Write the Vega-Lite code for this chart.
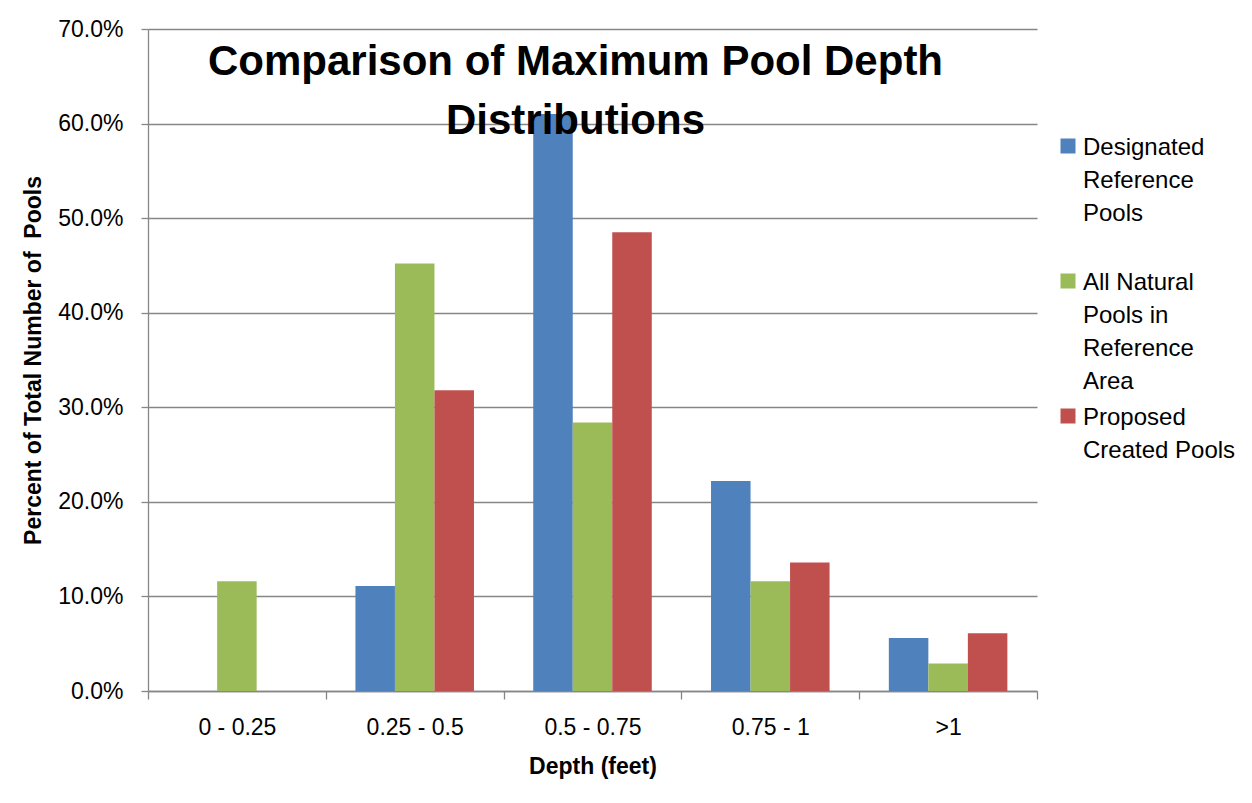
{
  "$schema": "https://vega.github.io/schema/vega-lite/v6.json",
  "width": 889,
  "height": 662,
  "autosize": {"type": "none"},
  "padding": {"left": 148, "top": 29, "right": 215, "bottom": 112},
  "background": "white",
  "title": {
    "text": ["Comparison of Maximum Pool Depth", "Distributions"],
    "font": "Liberation Sans",
    "fontSize": 42,
    "fontWeight": "bold",
    "color": "black",
    "lineHeight": 59,
    "anchor": "middle",
    "dx": -17,
    "offset": -158,
    "baseline": "alphabetic"
  },
  "data": {
    "values": [
      {"depth": "0 - 0.25", "series": "Designated Reference Pools", "pct": 0},
      {"depth": "0 - 0.25", "series": "All Natural Pools in Reference Area", "pct": 0.116},
      {"depth": "0 - 0.25", "series": "Proposed Created Pools", "pct": 0},
      {"depth": "0.25 - 0.5", "series": "Designated Reference Pools", "pct": 0.111},
      {"depth": "0.25 - 0.5", "series": "All Natural Pools in Reference Area", "pct": 0.452},
      {"depth": "0.25 - 0.5", "series": "Proposed Created Pools", "pct": 0.318},
      {"depth": "0.5 - 0.75", "series": "Designated Reference Pools", "pct": 0.610},
      {"depth": "0.5 - 0.75", "series": "All Natural Pools in Reference Area", "pct": 0.284},
      {"depth": "0.5 - 0.75", "series": "Proposed Created Pools", "pct": 0.485},
      {"depth": "0.75 - 1", "series": "Designated Reference Pools", "pct": 0.222},
      {"depth": "0.75 - 1", "series": "All Natural Pools in Reference Area", "pct": 0.116},
      {"depth": "0.75 - 1", "series": "Proposed Created Pools", "pct": 0.136},
      {"depth": ">1", "series": "Designated Reference Pools", "pct": 0.056},
      {"depth": ">1", "series": "All Natural Pools in Reference Area", "pct": 0.029},
      {"depth": ">1", "series": "Proposed Created Pools", "pct": 0.061}
    ]
  },
  "mark": {"type": "bar"},
  "encoding": {
    "x": {
      "field": "depth",
      "type": "nominal",
      "sort": ["0 - 0.25", "0.25 - 0.5", "0.5 - 0.75", "0.75 - 1", ">1"],
      "scale": {"paddingInner": 0, "paddingOuter": 0},
      "axis": {
        "title": "Depth (feet)",
        "titleFontSize": 23,
        "titleFontWeight": "bold",
        "titleColor": "black",
        "titlePadding": 16,
        "labelFontSize": 23,
        "labelColor": "black",
        "labelAngle": 0,
        "labelPadding": 17,
        "tickSize": 8,
        "tickWidth": 1.3,
        "tickColor": "#868686",
        "tickBand": "extent",
        "domainColor": "#868686",
        "domainWidth": 1.3,
        "grid": false
      }
    },
    "xOffset": {
      "field": "series",
      "type": "nominal",
      "scale": {
        "domain": ["Designated Reference Pools", "All Natural Pools in Reference Area", "Proposed Created Pools"],
        "paddingInner": 0,
        "paddingOuter": 0.75
      }
    },
    "y": {
      "field": "pct",
      "type": "quantitative",
      "scale": {"domain": [0, 0.7]},
      "axis": {
        "title": "Percent of Total Number of \u00a0Pools",
        "titleFontSize": 23,
        "titleFontWeight": "bold",
        "titleColor": "black",
        "titlePadding": 12,
        "labelFontSize": 23,
        "labelColor": "black",
        "labelPadding": 18,
        "format": ".1%",
        "values": [0, 0.1, 0.2, 0.3, 0.4, 0.5, 0.6, 0.7],
        "tickSize": 7,
        "tickWidth": 1.3,
        "tickColor": "#868686",
        "domainColor": "#868686",
        "domainWidth": 1.3,
        "gridColor": "#868686",
        "gridWidth": 1.3
      }
    },
    "color": {
      "field": "series",
      "type": "nominal",
      "scale": {
        "domain": ["Designated Reference Pools", "All Natural Pools in Reference Area", "Proposed Created Pools"],
        "range": ["#4F81BD", "#9BBB59", "#C0504D"]
      },
      "legend": {
        "orient": "none",
        "legendX": 908,
        "legendY": 105,
        "title": null,
        "padding": 0,
        "symbolType": "square",
        "symbolSize": 225,
        "symbolStrokeWidth": 0,
        "symbolOpacity": 1,
        "labelFontSize": 24,
        "labelColor": "black",
        "labelOffset": 3,
        "labelLimit": 300,
        "rowPadding": 10,
        "gridAlign": "all",
        "labelBaseline": "alphabetic",
        "labelExpr": "datum.label == 'Designated Reference Pools' ? ['Designated', 'Reference', 'Pools'] : datum.label == 'All Natural Pools in Reference Area' ? ['All Natural', 'Pools in', 'Reference', 'Area'] : ['Proposed', 'Created Pools']",
        "encode": {
          "labels": {"update": {"dy": {"value": 9}, "lineHeight": {"value": 33}}}
        }
      }
    }
  },
  "config": {
    "view": {"stroke": null},
    "font": "Liberation Sans"
  }
}
